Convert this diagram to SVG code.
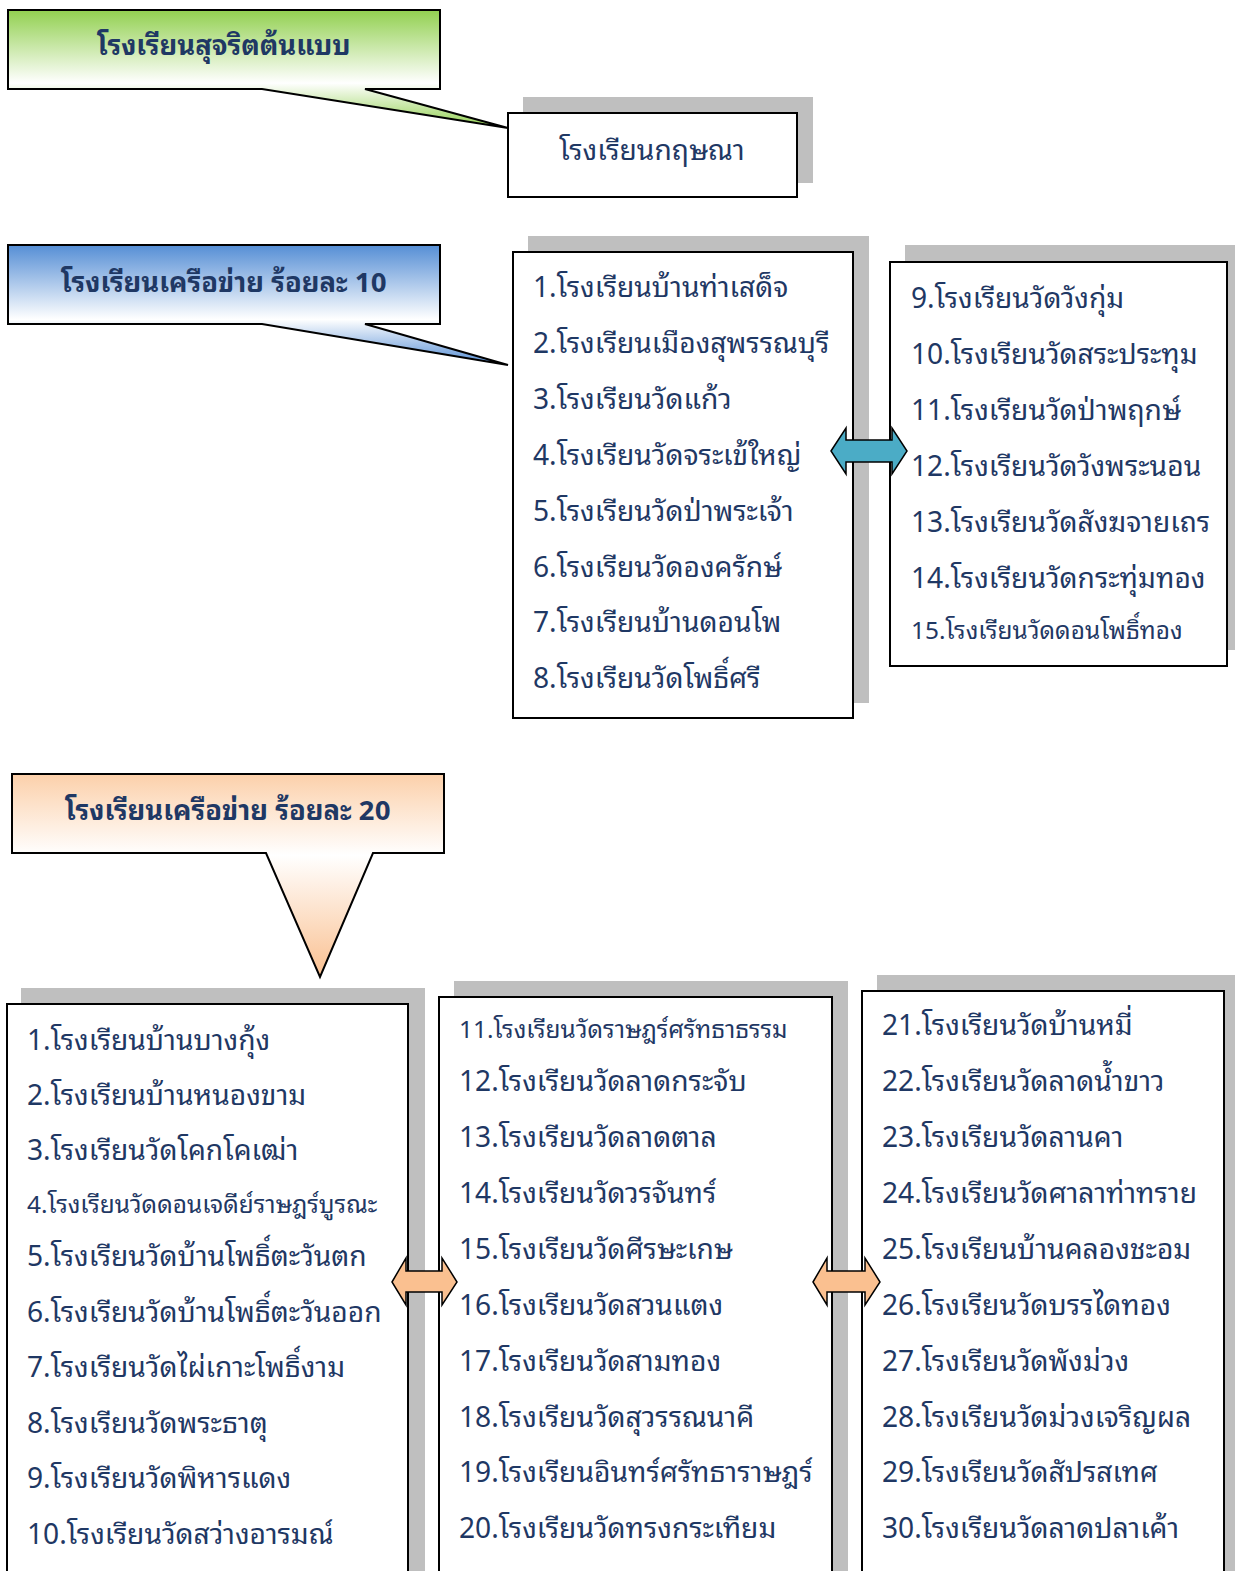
<svg xmlns="http://www.w3.org/2000/svg" width="1235" height="1571" viewBox="0 0 1235 1571">
<defs>
<linearGradient id="gGreen" x1="0" y1="10" x2="0" y2="128" gradientUnits="userSpaceOnUse">
<stop offset="0" stop-color="#92d050"/><stop offset="0.62" stop-color="#ffffff"/><stop offset="1" stop-color="#92d050"/>
</linearGradient>
<linearGradient id="gBlue" x1="0" y1="245" x2="0" y2="365" gradientUnits="userSpaceOnUse">
<stop offset="0" stop-color="#558ed5"/><stop offset="0.62" stop-color="#ffffff"/><stop offset="1" stop-color="#558ed5"/>
</linearGradient>
<linearGradient id="gOrange" x1="0" y1="774" x2="0" y2="977" gradientUnits="userSpaceOnUse">
<stop offset="0" stop-color="#fcd0aa"/><stop offset="0.4" stop-color="#ffffff"/><stop offset="1" stop-color="#fac090"/>
</linearGradient>
<style>
.callout{stroke:#000;stroke-width:2;stroke-linejoin:miter}
.shadow{fill:#bfbfbf}
.box{fill:#fff;stroke:#000;stroke-width:2}
.title{font-family:"Noto Sans Thai Looped","Noto Sans Thai","Noto Sans",sans-serif;font-weight:bold;font-size:27.4px;fill:#1f3864;text-anchor:middle;dominant-baseline:central}
.item{font-family:"Noto Sans Thai Looped","Noto Sans Thai","Noto Sans",sans-serif;font-size:28.2px;fill:#1f3864;dominant-baseline:central}
.sm{font-size:24.4px}
.arrB{fill:#4bacc6;stroke:#000;stroke-width:1.5}
.arrO{fill:#fac090;stroke:#000;stroke-width:1.5}
</style>
</defs>

<g id="callout-model">
<path class="callout" fill="url(#gGreen)" d="M8,10 H440 V89 H365 L508,128 L262,89 H8 Z"/>
<text class="title" x="224" y="43">โรงเรียนสุจริตต้นแบบ</text>
</g>

<g id="box-kritsana">
<rect class="shadow" x="523" y="97" width="290" height="86"/>
<rect class="box" x="508" y="113" width="289" height="84"/>
<text class="item" x="652" y="147" text-anchor="middle">โรงเรียนกฤษณา</text>
</g>

<g id="callout-10">
<path class="callout" fill="url(#gBlue)" d="M8,245 H440 V324 H365 L508,365 L262,324 H8 Z"/>
<text class="title" x="224" y="280">โรงเรียนเครือข่าย ร้อยละ 10</text>
</g>

<g id="list-10a">
<rect class="shadow" x="528" y="236" width="341" height="467"/>
<rect class="box" x="513" y="252" width="340" height="466"/>
<text class="item" x="533" y="284">1.โรงเรียนบ้านท่าเสด็จ</text>
<text class="item" x="533" y="340">2.โรงเรียนเมืองสุพรรณบุรี</text>
<text class="item" x="533" y="396">3.โรงเรียนวัดแก้ว</text>
<text class="item" x="533" y="452">4.โรงเรียนวัดจระเข้ใหญ่</text>
<text class="item" x="533" y="508">5.โรงเรียนวัดป่าพระเจ้า</text>
<text class="item" x="533" y="564">6.โรงเรียนวัดองครักษ์</text>
<text class="item" x="533" y="619">7.โรงเรียนบ้านดอนโพ</text>
<text class="item" x="533" y="675">8.โรงเรียนวัดโพธิ์ศรี</text>
</g>

<g id="list-10b">
<rect class="shadow" x="905" y="245" width="330" height="405"/>
<rect class="box" x="890" y="262" width="337" height="404"/>
<text class="item" x="911" y="295">9.โรงเรียนวัดวังกุ่ม</text>
<text class="item" x="911" y="351">10.โรงเรียนวัดสระประทุม</text>
<text class="item" x="911" y="407">11.โรงเรียนวัดป่าพฤกษ์</text>
<text class="item" x="911" y="463">12.โรงเรียนวัดวังพระนอน</text>
<text class="item" x="911" y="519">13.โรงเรียนวัดสังฆจายเถร</text>
<text class="item" x="911" y="575">14.โรงเรียนวัดกระทุ่มทอง</text>
<text class="item sm" x="911" y="628">15.โรงเรียนวัดดอนโพธิ์ทอง</text>
</g>

<g id="callout-20">
<path class="callout" fill="url(#gOrange)" d="M12,774 H444 V853 H373 L320,977 L266,853 H12 Z"/>
<text class="title" x="228" y="808">โรงเรียนเครือข่าย ร้อยละ 20</text>
</g>

<g id="list-20a">
<rect class="shadow" x="21" y="988" width="404" height="600"/>
<rect class="box" x="7" y="1004" width="401" height="600"/>
<text class="item" x="27" y="1037">1.โรงเรียนบ้านบางกุ้ง</text>
<text class="item" x="27" y="1092">2.โรงเรียนบ้านหนองขาม</text>
<text class="item" x="27" y="1147">3.โรงเรียนวัดโคกโคเฒ่า</text>
<text class="item sm" x="27" y="1202">4.โรงเรียนวัดดอนเจดีย์ราษฎร์บูรณะ</text>
<text class="item" x="27" y="1253">5.โรงเรียนวัดบ้านโพธิ์ตะวันตก</text>
<text class="item" x="27" y="1309">6.โรงเรียนวัดบ้านโพธิ์ตะวันออก</text>
<text class="item" x="27" y="1364">7.โรงเรียนวัดไผ่เกาะโพธิ์งาม</text>
<text class="item" x="27" y="1420">8.โรงเรียนวัดพระธาตุ</text>
<text class="item" x="27" y="1475">9.โรงเรียนวัดพิหารแดง</text>
<text class="item" x="27" y="1531">10.โรงเรียนวัดสว่างอารมณ์</text>
</g>

<g id="list-20b">
<rect class="shadow" x="454" y="981" width="394" height="600"/>
<rect class="box" x="439" y="997" width="393" height="600"/>
<text class="item sm" x="459" y="1027">11.โรงเรียนวัดราษฎร์ศรัทธาธรรม</text>
<text class="item" x="459" y="1078">12.โรงเรียนวัดลาดกระจับ</text>
<text class="item" x="459" y="1134">13.โรงเรียนวัดลาดตาล</text>
<text class="item" x="459" y="1190">14.โรงเรียนวัดวรจันทร์</text>
<text class="item" x="459" y="1246">15.โรงเรียนวัดศีรษะเกษ</text>
<text class="item" x="459" y="1302">16.โรงเรียนวัดสวนแตง</text>
<text class="item" x="459" y="1358">17.โรงเรียนวัดสามทอง</text>
<text class="item" x="459" y="1414">18.โรงเรียนวัดสุวรรณนาคี</text>
<text class="item" x="459" y="1469">19.โรงเรียนอินทร์ศรัทธาราษฎร์</text>
<text class="item" x="459" y="1525">20.โรงเรียนวัดทรงกระเทียม</text>
</g>

<g id="list-20c">
<rect class="shadow" x="877" y="975" width="358" height="600"/>
<rect class="box" x="862" y="991" width="362" height="600"/>
<text class="item" x="882" y="1022">21.โรงเรียนวัดบ้านหมี่</text>
<text class="item" x="882" y="1078">22.โรงเรียนวัดลาดน้ำขาว</text>
<text class="item" x="882" y="1134">23.โรงเรียนวัดลานคา</text>
<text class="item" x="882" y="1190">24.โรงเรียนวัดศาลาท่าทราย</text>
<text class="item" x="882" y="1246">25.โรงเรียนบ้านคลองชะอม</text>
<text class="item" x="882" y="1302">26.โรงเรียนวัดบรรไดทอง</text>
<text class="item" x="882" y="1358">27.โรงเรียนวัดพังม่วง</text>
<text class="item" x="882" y="1414">28.โรงเรียนวัดม่วงเจริญผล</text>
<text class="item" x="882" y="1469">29.โรงเรียนวัดสัปรสเทศ</text>
<text class="item" x="882" y="1525">30.โรงเรียนวัดลาดปลาเค้า</text>
</g>

<g id="connectors">
<path class="arrB" d="M831,451 L846,428 V440 H892 V428 L907,451 L892,474 V462 H846 V474 Z"/>
<path class="arrO" d="M392,1282 L406,1258 V1271 H442 V1258 L457,1282 L442,1305 V1292 H406 V1305 Z"/>
<path class="arrO" d="M813,1282 L827,1258 V1271 H865 V1258 L880,1282 L865,1305 V1292 H827 V1305 Z"/>
</g>
</svg>
